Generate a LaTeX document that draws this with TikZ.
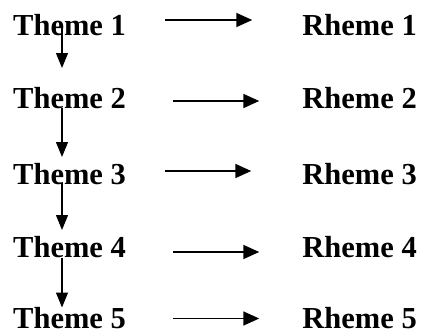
\documentclass[tikz,border=0pt]{standalone}
\usepackage{fontspec}
\setmainfont{Liberation Serif}
\usetikzlibrary{arrows.meta}
\tikzset{
  word/.style={inner sep=0pt,font=\fontsize{30.5}{36}\selectfont\bfseries},
  across/.style={line width=1.7pt,-{Triangle[length=16pt,width=14pt]}},
  down/.style={line width=1.2pt,-{Triangle[length=15pt,width=12pt]}}
}
\begin{document}
\begin{tikzpicture}[x=1pt,y=1pt]
  \useasboundingbox (0,0) rectangle (421,333);
  % themes on the left, rhemes on the right
  \node[word,anchor=base west] (t1) at (13,298) {Theme 1};
  \node[word,anchor=base west] (t2) at (13,225) {Theme 2};
  \node[word,anchor=base west] (t3) at (13,149) {Theme 3};
  \node[word,anchor=base west] (t4) at (13,76) {Theme 4};
  \node[word,anchor=base west] (t5) at (13,4.5) {Theme 5};
  \node[word,anchor=base east] (r1) at (417,298) {Rheme 1};
  \node[word,anchor=base east] (r2) at (417,225) {Rheme 2};
  \node[word,anchor=base east] (r3) at (417,149) {Rheme 3};
  \node[word,anchor=base east] (r4) at (417,76) {Rheme 4};
  \node[word,anchor=base east] (r5) at (417,4.5) {Rheme 5};
  % theme to rheme
  \draw[across] ([xshift=39pt,yshift=15pt]t1.base east) -- ([xshift=-50pt,yshift=15pt]r1.base west);
  \draw[across] ([xshift=47pt,yshift=7pt]t2.base east) -- ([xshift=-43pt,yshift=7pt]r2.base west);
  \draw[across] ([xshift=39pt,yshift=13pt]t3.base east) -- ([xshift=-51pt,yshift=13pt]r3.base west);
  \draw[across] ([xshift=47pt,yshift=5pt]t4.base east) -- ([xshift=-43pt,yshift=5pt]r4.base west);
  \draw[across] ([xshift=47pt,yshift=10pt]t5.base east) -- ([xshift=-43pt,yshift=10pt]r5.base west);
  % theme to next theme
  \draw[down] ([xshift=49pt,yshift=10pt]t1.base west) -- ([xshift=49pt,yshift=40pt]t2.base west);
  \draw[down] ([xshift=49pt]t2.base west) -- ([xshift=49pt,yshift=27pt]t3.base west);
  \draw[down] ([xshift=49pt,yshift=1pt]t3.base west) -- ([xshift=49pt,yshift=27pt]t4.base west);
  \draw[down] ([xshift=49pt,yshift=-1pt]t4.base west) -- ([xshift=49pt,yshift=21pt]t5.base west);
\end{tikzpicture}
\end{document}
